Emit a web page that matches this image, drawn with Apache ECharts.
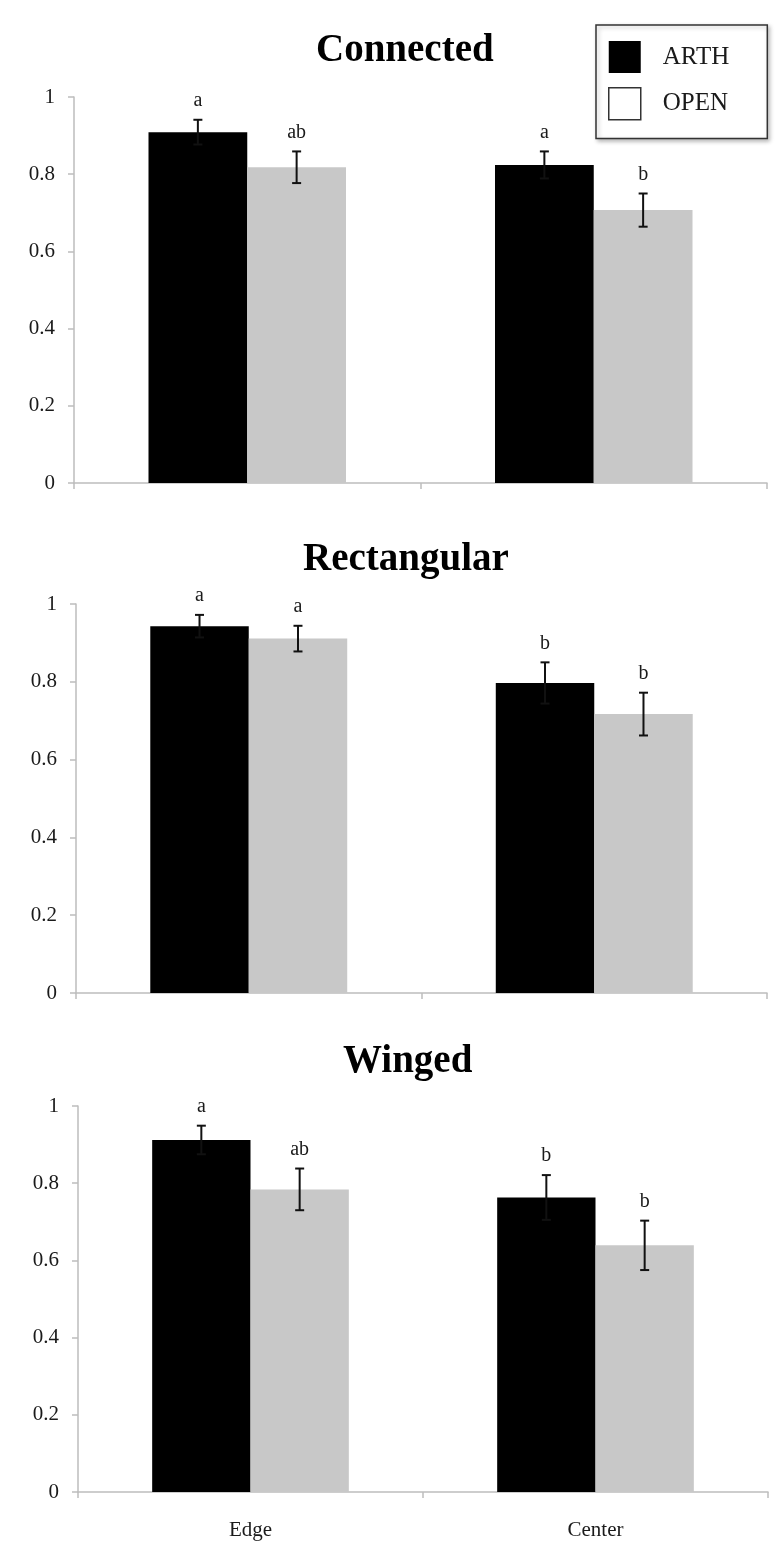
<!DOCTYPE html>
<html>
<head>
<meta charset="utf-8">
<style>
  html, body { margin: 0; padding: 0; background: #fff; }
  #chart { width: 776px; height: 1560px; }
</style>
<script src="https://cdn.jsdelivr.net/npm/echarts@6/dist/echarts.min.js"></script>
</head>
<body>
<div id="chart"></div>
<script>
// ---------- data ----------
const categories = ['Edge', 'Center'];
const seriesNames = ['ARTH', 'OPEN'];
const panelTitles = ['Connected', 'Rectangular', 'Winged'];
const yTicks = [0, 0.2, 0.4, 0.6, 0.8, 1];

const connectedARTH = [0.909, 0.824];
const connectedARTHErr = [0.032, 0.035];
const connectedOPEN = [0.818, 0.707];
const connectedOPENErr = [0.041, 0.043];
const connectedARTHLetters = ['a', 'a'];
const connectedOPENLetters = ['ab', 'b'];

const rectangularARTH = [0.943, 0.797];
const rectangularARTHErr = [0.029, 0.053];
const rectangularOPEN = [0.911, 0.717];
const rectangularOPENErr = [0.033, 0.055];
const rectangularARTHLetters = ['a', 'b'];
const rectangularOPENLetters = ['a', 'b'];

const wingedARTH = [0.912, 0.763];
const wingedARTHErr = [0.037, 0.058];
const wingedOPEN = [0.784, 0.639];
const wingedOPENErr = [0.054, 0.064];
const wingedARTHLetters = ['a', 'b'];
const wingedOPENLetters = ['ab', 'b'];

// ---------- build ----------
const panels = [
  { arth: connectedARTH, arthErr: connectedARTHErr, open: connectedOPEN, openErr: connectedOPENErr,
    arthL: connectedARTHLetters, openL: connectedOPENLetters },
  { arth: rectangularARTH, arthErr: rectangularARTHErr, open: rectangularOPEN, openErr: rectangularOPENErr,
    arthL: rectangularARTHLetters, openL: rectangularOPENLetters },
  { arth: wingedARTH, arthErr: wingedARTHErr, open: wingedOPEN, openErr: wingedOPENErr,
    arthL: wingedARTHLetters, openL: wingedOPENLetters }
];

const FONT = '"Liberation Serif", "Times New Roman", serif';
const TXT = '#1a1a1a';
const AXIS = '#bdbdbd';
const BAR_CAT_GAP = 0.43;
const colors = { ARTH: '#000000', OPEN: '#c8c8c8' };

const grids = [
  { left: 74, top: 97, width: 693, height: 386 },
  { left: 76, top: 604, width: 691, height: 389 },
  { left: 78, top: 1106, width: 690, height: 386 }
];
const titleLefts = [311, 298, 338];
const titleTops = [26, 535, 1037];

function errorSeries(gi, name, vals, errs, letters, sign) {
  return {
    type: 'custom',
    name: name + ' error',
    xAxisIndex: gi, yAxisIndex: gi,
    z: 10,
    silent: true,
    data: vals.map((v, i) => [i, v, errs[i]]),
    renderItem: function (params, api) {
      const ci = api.value(0), v = api.value(1), e = api.value(2);
      const base = api.coord([ci, v]);
      const band = api.size([1, 0])[0];
      const cx = base[0] + sign * band * (1 - BAR_CAT_GAP) / 4;
      const yHi = api.coord([ci, v + e])[1];
      const yLo = api.coord([ci, v - e])[1];
      const cap = 4.5;
      const st = { stroke: '#111', lineWidth: 2 };
      return {
        type: 'group',
        children: [
          { type: 'line', shape: { x1: cx, y1: yHi, x2: cx, y2: yLo }, style: st },
          { type: 'line', shape: { x1: cx - cap, y1: yHi, x2: cx + cap, y2: yHi }, style: st },
          { type: 'line', shape: { x1: cx - cap, y1: yLo, x2: cx + cap, y2: yLo }, style: st },
          { type: 'text', x: cx, y: yHi - 19,
            style: { text: letters[params.dataIndex], fill: TXT, font: '20px ' + FONT,
                     textAlign: 'center', textVerticalAlign: 'middle' } }
        ]
      };
    }
  };
}

const option = {
  backgroundColor: '#fff',
  animation: false,
  title: panelTitles.map((t, i) => ({
    text: t, left: titleLefts[i], top: titleTops[i],
    textStyle: { fontFamily: FONT, fontWeight: 'bold', fontSize: 39, color: '#000' }
  })),
  legend: {
    data: [
      { name: 'ARTH', itemStyle: { color: '#000', borderColor: '#000', borderWidth: 0 } },
      { name: 'OPEN', itemStyle: { color: '#fff', borderColor: '#333', borderWidth: 1.5 } }
    ],
    orient: 'vertical',
    left: 596, top: 25,
    padding: [16, 38, 18, 12],
    itemWidth: 32, itemHeight: 32, itemGap: 14,
    icon: 'rect',
    selectedMode: false,
    backgroundColor: '#fff',
    borderColor: '#333', borderWidth: 1.5,
    shadowColor: 'rgba(0,0,0,0.25)', shadowBlur: 4, shadowOffsetX: 2, shadowOffsetY: 2,
    textStyle: { fontFamily: FONT, fontSize: 25, color: TXT, padding: [6, 0, 0, 17] }
  },
  grid: grids,
  xAxis: grids.map((g, i) => ({
    type: 'category', gridIndex: i, data: categories,
    axisLine: { show: true, lineStyle: { color: AXIS, width: 1.5 } },
    axisTick: { show: true, length: 6, lineStyle: { color: AXIS, width: 1.5 } },
    axisLabel: { show: i === 2, fontFamily: FONT, fontSize: 21, color: TXT, margin: 28 }
  })),
  yAxis: grids.map((g, i) => ({
    type: 'value', gridIndex: i, min: yTicks[0], max: yTicks[yTicks.length - 1], interval: 0.2,
    axisLine: { show: true, lineStyle: { color: AXIS, width: 1.5 } },
    axisTick: { show: true, length: 6, lineStyle: { color: AXIS, width: 1.5 } },
    splitLine: { show: false },
    axisLabel: { fontFamily: FONT, fontSize: 21, color: TXT, margin: 19,
                 formatter: v => String(Math.round(v * 10) / 10) }
  })),
  series: []
};

panels.forEach((p, gi) => {
  option.series.push({
    type: 'bar', name: 'ARTH', xAxisIndex: gi, yAxisIndex: gi, data: p.arth,
    barCategoryGap: (BAR_CAT_GAP * 100) + '%', barGap: '0%',
    itemStyle: { color: colors.ARTH }, silent: true
  });
  option.series.push({
    type: 'bar', name: 'OPEN', xAxisIndex: gi, yAxisIndex: gi, data: p.open,
    barCategoryGap: (BAR_CAT_GAP * 100) + '%', barGap: '0%',
    itemStyle: { color: colors.OPEN }, silent: true
  });
  option.series.push(errorSeries(gi, 'ARTH', p.arth, p.arthErr, p.arthL, -1));
  option.series.push(errorSeries(gi, 'OPEN', p.open, p.openErr, p.openL, 1));
});

const chart = echarts.init(document.getElementById('chart'), null, { renderer: 'canvas' });
chart.setOption(option);
</script>
</body>
</html>
